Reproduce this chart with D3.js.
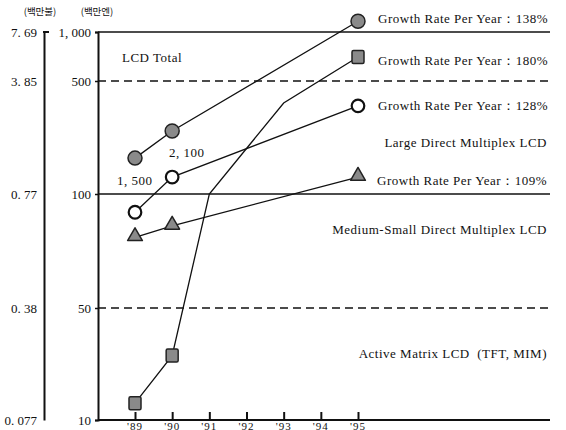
<!DOCTYPE html>
<html>
<head>
<meta charset="utf-8">
<script src="https://cdn.jsdelivr.net/npm/d3@7"></script>
<style>
  body { margin: 0; background: #fff; }
  svg { display: block; }
  svg text { font-family: "Liberation Serif", "DejaVu Serif", serif; fill: #111; }
</style>
</head>
<body>
<div id="chart"></div>
<script>
// Years on the x axis
var years = ["'89", "'90", "'91", "'92", "'93", "'94", "'95"];

// Right (main) axis ticks, in 백만엔, and left axis ticks, in 백만불
var yenTicks = [10, 50, 100, 500, 1000];
var dollarTicks = [0.077, 0.38, 0.77, 3.85, 7.69];

// Reference lines across the plot
var solidLines = [1000, 100];
var dashedLines = [500, 50];

// LCD Total (filled circle)
var totalYears = ["'89", "'90", "'95"];
var totalValues = [227, 323, 1110];

// Active Matrix LCD (square) - line bends at '91 and '93, markers only at '89, '90, '95
var activeYears = ["'89", "'90", "'91", "'93", "'95"];
var activeValues = [16, 33, 100, 422, 745];
var activeMarkerYears = ["'89", "'90", "'95"];

// Large Direct Multiplex LCD (open circle)
var largeYears = ["'89", "'90", "'95"];
var largeValues = [92, 160, 412];

// Medium-Small Direct Multiplex LCD (triangle)
var mediumYears = ["'89", "'90", "'95"];
var mediumValues = [81, 86, 160];

var width = 566, height = 430;
var serif = "'Liberation Serif', 'DejaVu Serif', serif";

var svg = d3.select("#chart")
    .append("svg")
        .attr("width", width)
        .attr("height", height);

// The scanned chart spaces its ticks evenly-ish, not on a true log scale
var y = d3.scaleLinear()
    .domain(yenTicks)
    .range([420, 308, 194, 81, 32]);

var yLeft = d3.scaleLinear()
    .domain(dollarTicks)
    .range([420, 308, 194, 81, 32]);

var x = d3.scalePoint()
    .domain(years)
    .range([135, 358]);

var plotLeft = 98, plotRight = 550;

// Unit labels
svg.append("text")
    .attr("x", 40).attr("y", 15)
    .attr("text-anchor", "middle")
    .style("font-family", "'Noto Sans CJK KR', sans-serif")
    .style("font-size", "9.5px")
    .text("(백만불)");
svg.append("text")
    .attr("x", 97).attr("y", 15)
    .attr("text-anchor", "middle")
    .style("font-family", "'Noto Sans CJK KR', sans-serif")
    .style("font-size", "9.5px")
    .text("(백만엔)");

// Left (dollar) axis
var leftAxis = svg.append("g")
    .attr("transform", "translate(44,0)")
    .call(d3.axisLeft(yLeft)
        .tickValues(dollarTicks)
        .tickSize(0)
        .tickPadding(7)
        .tickFormat(function(d) { return String(d).replace(".", ". "); }));
leftAxis.attr("font-family", null);
leftAxis.select(".domain").attr("stroke", "#111").attr("stroke-width", 2);
leftAxis.selectAll("text").style("font-size", "13px").style("font-family", serif);
// little hook at the top
svg.append("line")
    .attr("x1", 43).attr("x2", 49)
    .attr("y1", yLeft(7.69)).attr("y2", yLeft(7.69))
    .attr("stroke", "#111").attr("stroke-width", 2);

// Main (yen) axis
var mainAxis = svg.append("g")
    .attr("transform", "translate(" + plotLeft + ",0)")
    .call(d3.axisLeft(y)
        .tickValues(yenTicks)
        .tickSize(3)
        .tickPadding(4)
        .tickFormat(function(d) { return d3.format(",")(d).replace(",", ", "); }));
mainAxis.attr("font-family", null);
mainAxis.select(".domain").attr("stroke", "#111").attr("stroke-width", 2);
mainAxis.selectAll(".tick line").attr("stroke", "#111").attr("stroke-width", 1.5);
mainAxis.selectAll("text").style("font-size", "13px").style("font-family", serif);

// Horizontal reference lines
svg.selectAll(".solid-ref")
    .data(solidLines)
    .enter()
    .append("line")
    .attr("class", "solid-ref")
    .attr("x1", plotLeft).attr("x2", plotRight)
    .attr("y1", function(d) { return y(d); })
    .attr("y2", function(d) { return y(d); })
    .attr("stroke", "#111")
    .attr("stroke-width", 1.6);

svg.selectAll(".dashed-ref")
    .data(dashedLines)
    .enter()
    .append("line")
    .attr("class", "dashed-ref")
    .attr("x1", plotLeft).attr("x2", plotRight)
    .attr("y1", function(d) { return y(d); })
    .attr("y2", function(d) { return y(d); })
    .attr("stroke", "#111")
    .attr("stroke-width", 1.6)
    .attr("stroke-dasharray", "8,5");

// Bottom axis with ticks pointing up
var xAxis = svg.append("g")
    .attr("transform", "translate(0," + y(10) + ")")
    .call(d3.axisTop(x).tickSize(8).tickFormat(""));
xAxis.select(".domain").remove();
xAxis.selectAll(".tick line").attr("stroke", "#111").attr("stroke-width", 2);
svg.append("line")
    .attr("x1", plotLeft).attr("x2", plotRight)
    .attr("y1", y(10)).attr("y2", y(10))
    .attr("stroke", "#111").attr("stroke-width", 2);
svg.selectAll(".year-label")
    .data(years)
    .enter()
    .append("text")
    .attr("class", "year-label")
    .attr("x", function(d) { return x(d); })
    .attr("y", y(10) + 9.5)
    .attr("text-anchor", "middle")
    .style("font-size", "11px")
    .style("letter-spacing", "1px")
    .text(function(d) { return d; });

// Series lines
var line = d3.line()
    .x(function(d) { return x(d[0]); })
    .y(function(d) { return y(d[1]); });

function drawLine(yrs, vals) {
    svg.append("path")
        .datum(d3.zip(yrs, vals))
        .attr("d", line)
        .attr("fill", "none")
        .attr("stroke", "#111")
        .attr("stroke-width", 1.3);
}

drawLine(totalYears, totalValues);
drawLine(activeYears, activeValues);
drawLine(largeYears, largeValues);
drawLine(mediumYears, mediumValues);

// Markers
svg.selectAll(".total-pt")
    .data(d3.zip(totalYears, totalValues))
    .enter()
    .append("circle")
    .attr("class", "total-pt")
    .attr("cx", function(d) { return x(d[0]); })
    .attr("cy", function(d) { return y(d[1]); })
    .attr("r", 7)
    .attr("fill", "#8a8a8a")
    .attr("stroke", "#222")
    .attr("stroke-width", 1.5);

var activeMarkers = d3.zip(activeYears, activeValues).filter(function(d) {
    return activeMarkerYears.indexOf(d[0]) >= 0;
});
svg.selectAll(".active-pt")
    .data(activeMarkers)
    .enter()
    .append("rect")
    .attr("class", "active-pt")
    .attr("x", function(d) { return x(d[0]) - 6; })
    .attr("y", function(d) { return y(d[1]) - 6.5; })
    .attr("width", 12)
    .attr("height", 13)
    .attr("rx", 1.5)
    .attr("fill", "#8a8a8a")
    .attr("stroke", "#222")
    .attr("stroke-width", 1.5);

svg.selectAll(".large-pt")
    .data(d3.zip(largeYears, largeValues))
    .enter()
    .append("circle")
    .attr("class", "large-pt")
    .attr("cx", function(d) { return x(d[0]); })
    .attr("cy", function(d) { return y(d[1]); })
    .attr("r", 6.3)
    .attr("fill", "#fff")
    .attr("stroke", "#111")
    .attr("stroke-width", 2.2);

var tri = d3.symbol().type(d3.symbolTriangle).size(95);
svg.selectAll(".medium-pt")
    .data(d3.zip(mediumYears, mediumValues))
    .enter()
    .append("path")
    .attr("class", "medium-pt")
    .attr("d", tri)
    .attr("transform", function(d) { return "translate(" + x(d[0]) + "," + (y(d[1]) - 1) + ")"; })
    .attr("fill", "#8a8a8a")
    .attr("stroke", "#222")
    .attr("stroke-width", 1.5)
    .attr("stroke-linejoin", "round");

// Annotations
var labels = [
    {t: "Growth Rate Per Year：138%", x: 548, y: 23, a: "end"},
    {t: "Growth Rate Per Year：180%", x: 548, y: 65, a: "end"},
    {t: "Growth Rate Per Year：128%", x: 548, y: 110, a: "end"},
    {t: "Large Direct Multiplex LCD", x: 547, y: 147, a: "end"},
    {t: "Growth Rate Per Year：109%", x: 547, y: 185, a: "end"},
    {t: "Medium-Small Direct Multiplex LCD", x: 547, y: 234, a: "end"},
    {t: "Active Matrix LCD  (TFT, MIM)", x: 547, y: 358, a: "end"},
    {t: "LCD Total", x: 122, y: 62, a: "start"},
    {t: "1, 500", x: 117, y: 185, a: "start"},
    {t: "2, 100", x: 169, y: 157, a: "start"}
];

svg.selectAll(".note")
    .data(labels)
    .enter()
    .append("text")
    .attr("class", "note")
    .attr("x", function(d) { return d.x; })
    .attr("y", function(d) { return d.y; })
    .attr("text-anchor", function(d) { return d.a; })
    .style("font-family", serif)
    .style("font-size", "13px")
    .style("letter-spacing", "0.5px")
    .style("white-space", "pre")
    .text(function(d) { return d.t; });
</script>
</body>
</html>
